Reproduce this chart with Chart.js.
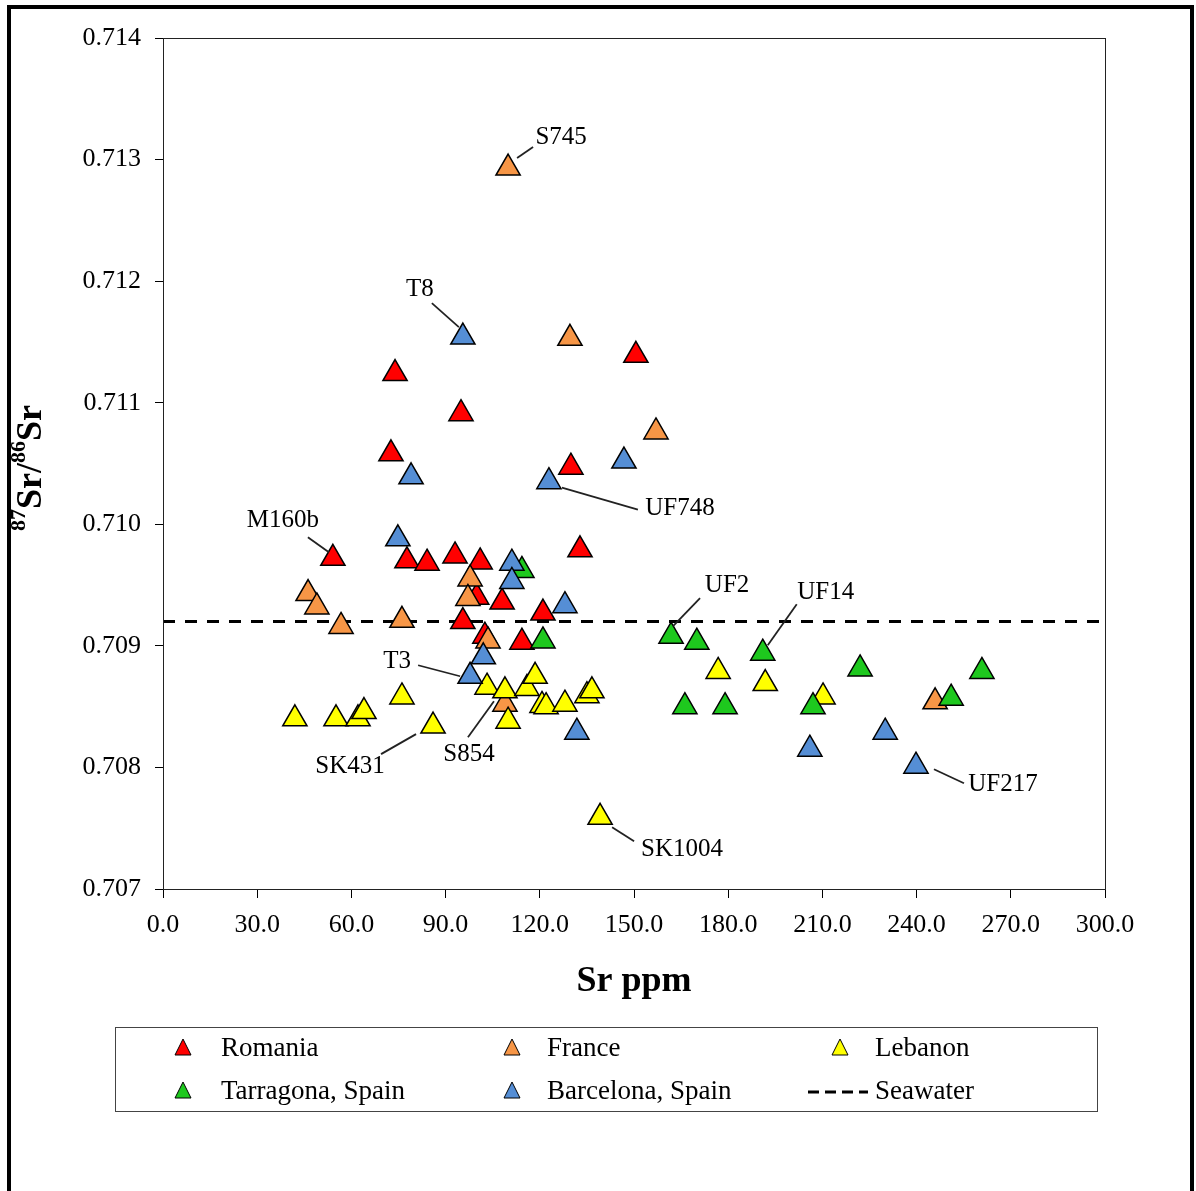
<!DOCTYPE html>
<html>
<head>
<meta charset="utf-8">
<script src="https://cdn.jsdelivr.net/npm/chart.js@4/dist/chart.umd.min.js"></script>
<style>
  body { margin: 0; background: #fff; }
  #wrap { width: 1196px; height: 1191px; }
</style>
</head>
<body>
<div id="wrap"><canvas id="srChart"></canvas></div>
<script>
// Sr ppm (x) and 87Sr/86Sr (y) per region
var romaniaSr    = [54.1, 73.9, 94.9, 72.6, 150.6, 129.9, 132.8, 77.7, 84.1, 93.0, 101.0, 99.9, 108.0, 95.5, 121.0, 114.3, 102.5];
var romaniaRatio = [0.70972, 0.71124, 0.71091, 0.71058, 0.71139, 0.71047, 0.70979, 0.70970, 0.70968, 0.70974, 0.70969, 0.70940, 0.70936, 0.70920, 0.70927, 0.70903, 0.70908];

var franceSr    = [109.9, 129.6, 157.0, 46.2, 49.0, 56.7, 76.1, 97.8, 97.1, 103.5, 108.9, 245.9];
var franceRatio = [0.71293, 0.71153, 0.71076, 0.70943, 0.70932, 0.70916, 0.70921, 0.70955, 0.70939, 0.70904, 0.70852, 0.70854];

var lebanonSr    = [42.0, 55.1, 62.1, 64.0, 76.1, 86.0, 103.2, 108.9, 115.9, 118.5, 120.7, 122.0, 128.0, 135.0, 136.6, 109.9, 139.2, 176.8, 191.8, 210.2];
var lebanonRatio = [0.70840, 0.70840, 0.70840, 0.70846, 0.70858, 0.70834, 0.70866, 0.70863, 0.70865, 0.70875, 0.70851, 0.70850, 0.70852, 0.70859, 0.70863, 0.70838, 0.70759, 0.70879, 0.70869, 0.70858];

var tarragonaSr    = [114.3, 121.0, 161.8, 170.0, 191.0, 166.2, 179.0, 207.0, 222.0, 251.0, 260.8];
var tarragonaRatio = [0.70962, 0.70904, 0.70908, 0.70903, 0.70894, 0.70850, 0.70850, 0.70850, 0.70881, 0.70857, 0.70879];

var barcelonaSr    = [95.5, 79.0, 122.9, 146.8, 74.8, 111.1, 111.1, 128.0, 102.0, 97.8, 131.8, 206.0, 230.0, 239.8];
var barcelonaRatio = [0.71154, 0.71039, 0.71035, 0.71052, 0.70988, 0.70968, 0.70953, 0.70933, 0.70891, 0.70875, 0.70829, 0.70815, 0.70829, 0.70801];

var seawaterSr    = [0, 300];
var seawaterRatio = [0.7092, 0.7092];

var xTicks = [0, 30, 60, 90, 120, 150, 180, 210, 240, 270, 300];
var yTicks = [0.707, 0.708, 0.709, 0.710, 0.711, 0.712, 0.713, 0.714];

// labelled samples: dataset index, point index, text offset, leader line (px)
var sampleLabels = [
    { text: "S745",   ds: 1, i: 0,  tx: 53,  ty: -31, l: [9, -10, 25, -21] },
    { text: "T8",     ds: 4, i: 0,  tx: -43, ty: -48, l: [-31, -34, -4, -10] },
    { text: "M160b",  ds: 0, i: 0,  tx: -50, ty: -38, l: [-25, -21, -4, -6] },
    { text: "UF748",  ds: 4, i: 2,  tx: 131, ty: 27,  l: [13, 6, 89, 28] },
    { text: "UF2",    ds: 3, i: 2,  tx: 56,  ty: -51, l: [29, -38, 2, -10] },
    { text: "UF14",   ds: 3, i: 4,  tx: 63,  ty: -61, l: [34, -49, 5, -8] },
    { text: "T3",     ds: 4, i: 9,  tx: -73, ty: -15, l: [-52, -11, -10, 0] },
    { text: "SK431",  ds: 2, i: 5,  tx: -83, ty: 40,  l: [-52, 28, -17, 8] },
    { text: "S854",   ds: 1, i: 10, tx: -36, ty: 50,  l: [-37, 33, -11, -3] },
    { text: "SK1004", ds: 2, i: 16, tx: 82,  ty: 32,  l: [12, 10, 34, 24] },
    { text: "UF217",  ds: 4, i: 13, tx: 87,  ty: 18,  l: [18, 3, 48, 17] }
];

function pts(xs, ys) {
    return xs.map(function (x, k) { return { x: x, y: ys[k] }; });
}

var FONT = "'Liberation Serif', 'Times New Roman', serif";

function tri(color, order, label, xs, ys) {
    return {
        label: label,
        data: pts(xs, ys),
        order: order,
        pointStyle: "triangle",
        pointRadius: 14,
        backgroundColor: color,
        borderColor: "#000",
        borderWidth: 1.5,
        showLine: false
    };
}

// frame, plot box, titles, labels and legend
var extras = {
    id: "extras",
    afterDraw: function (chart) {
        var c = chart.ctx, a = chart.chartArea;
        c.save();

        // outer frame
        c.strokeStyle = "#000";
        c.lineWidth = 4;
        c.beginPath();
        c.moveTo(9, 1191); c.lineTo(9, 7); c.lineTo(1192, 7); c.lineTo(1192, 1191);
        c.stroke();

        // plot box
        c.lineWidth = 1;
        c.strokeStyle = "#222";
        c.strokeRect(a.left + 0.5, a.top + 0.5, a.right - a.left, a.bottom - a.top);

        // sample labels
        c.fillStyle = "#000";
        c.font = "25px " + FONT;
        c.textAlign = "center";
        c.textBaseline = "middle";
        c.lineWidth = 1.8;
        sampleLabels.forEach(function (s) {
            var p = chart.getDatasetMeta(s.ds).data[s.i];
            c.beginPath();
            c.moveTo(p.x + s.l[0], p.y + s.l[1]);
            c.lineTo(p.x + s.l[2], p.y + s.l[3]);
            c.stroke();
            c.fillText(s.text, p.x + s.tx, p.y + s.ty);
        });

        // x title
        c.font = "bold 36px " + FONT;
        c.fillText("Sr ppm", (a.left + a.right) / 2, 982);

        // y title with superscripts
        var parts = [
            ["87", "bold 22px ", -13],
            ["Sr", "bold 36px ", 0],
            ["/", "bold 36px ", 0],
            ["86", "bold 22px ", -13],
            ["Sr", "bold 36px ", 0]
        ];
        var total = 0;
        parts.forEach(function (p) { c.font = p[1] + FONT; total += c.measureText(p[0]).width; });
        c.translate(32, 468);
        c.rotate(-Math.PI / 2);
        c.textAlign = "left";
        var px = -total / 2;
        parts.forEach(function (p) {
            c.font = p[1] + FONT;
            c.fillText(p[0], px, p[2]);
            px += c.measureText(p[0]).width;
        });
        c.setTransform(1, 0, 0, 1, 0, 0);

        // legend
        c.strokeStyle = "#444";
        c.lineWidth = 1;
        c.strokeRect(115.5, 1027.5, 982, 84);
        var cols = [183, 512, 840];
        var rows = [1049, 1092];
        var items = [
            [0, 0, 0], [1, 1, 0], [2, 2, 0],
            [3, 0, 1], [4, 1, 1]
        ];
        c.font = "27px " + FONT;
        c.textAlign = "left";
        items.forEach(function (it) {
            var ds = chart.data.datasets[it[0]];
            var x = cols[it[1]], y = rows[it[2]];
            c.beginPath();
            c.moveTo(x, y - 10);
            c.lineTo(x + 8, y + 6);
            c.lineTo(x - 8, y + 6);
            c.closePath();
            c.fillStyle = ds.backgroundColor;
            c.fill();
            c.strokeStyle = "#000";
            c.stroke();
            c.fillStyle = "#000";
            c.fillText(ds.label, x + 38 - (it[1] === 2 ? 3 : 0) - (it[1] === 1 ? 3 : 0), y);
        });
        c.strokeStyle = "#000";
        c.lineWidth = 3;
        c.setLineDash([11, 6]);
        c.beginPath();
        c.moveTo(808, 1092); c.lineTo(868, 1092);
        c.stroke();
        c.setLineDash([]);
        c.fillText("Seawater", 875, 1092);

        c.restore();
    }
};

document.addEventListener("DOMContentLoaded", function () {
    var ctx = document.getElementById("srChart").getContext("2d");
    Chart.defaults.font.family = FONT;
    Chart.defaults.color = "#000";

    new Chart(ctx, {
        type: "scatter",
        data: {
            datasets: [
                tri("#FF0000", 5, "Romania", romaniaSr, romaniaRatio),
                tri("#F79646", 4, "France", franceSr, franceRatio),
                tri("#FFFF00", 3, "Lebanon", lebanonSr, lebanonRatio),
                tri("#1EC81E", 2, "Tarragona, Spain", tarragonaSr, tarragonaRatio),
                tri("#558ED5", 1, "Barcelona, Spain", barcelonaSr, barcelonaRatio),
                {
                    type: "line",
                    label: "Seawater",
                    data: pts(seawaterSr, seawaterRatio),
                    order: 10,
                    borderColor: "#000",
                    borderWidth: 3,
                    borderDash: [12, 10],
                    pointRadius: 0,
                    fill: false
                }
            ]
        },
        options: {
            responsive: true,
            maintainAspectRatio: false,
            animation: false,
            layout: { padding: { top: 38, right: 91, left: 0, bottom: 0 } },
            plugins: {
                legend: { display: false },
                tooltip: { enabled: false }
            },
            scales: {
                x: {
                    type: "linear",
                    min: 0,
                    max: 300,
                    afterFit: function (s) { s.height = 302; },
                    afterBuildTicks: function (s) { s.ticks = xTicks.map(function (v) { return { value: v }; }); },
                    ticks: {
                        font: { size: 26 },
                        padding: 12,
                        maxRotation: 0,
                        callback: function (v) { return Number(v).toFixed(1); }
                    },
                    grid: { drawOnChartArea: false, tickLength: 9, color: "#000" },
                    border: { color: "#000" }
                },
                y: {
                    min: 0.707,
                    max: 0.714,
                    afterFit: function (s) { s.width = 163; },
                    afterBuildTicks: function (s) { s.ticks = yTicks.map(function (v) { return { value: v }; }); },
                    ticks: {
                        font: { size: 26 },
                        padding: 14,
                        callback: function (v) { return Number(v).toFixed(3); }
                    },
                    grid: { drawOnChartArea: false, tickLength: 8, color: "#000" },
                    border: { color: "#000" }
                }
            }
        },
        plugins: [extras]
    });
});
</script>
</body>
</html>
